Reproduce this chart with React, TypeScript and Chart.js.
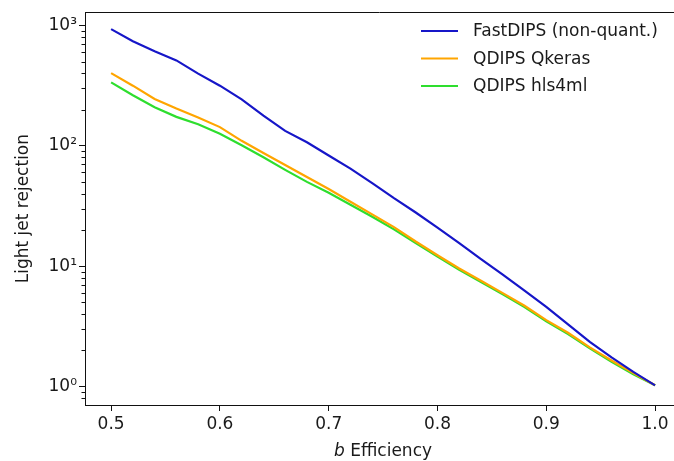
import React, { useEffect, useRef } from 'react';
import { Chart, registerables } from 'chart.js';

Chart.register(...registerables);

// ---------- data ----------
const efficiency = [
  0.50, 0.52, 0.54, 0.56, 0.58, 0.60, 0.62, 0.64, 0.66, 0.68, 0.70, 0.72, 0.74,
  0.76, 0.78, 0.80, 0.82, 0.84, 0.86, 0.88, 0.90, 0.92, 0.94, 0.96, 0.98, 1.00,
];
const fastDips = [
  933, 741, 610, 513, 398, 316, 243, 178, 133, 107, 83, 64.6, 49,
  36.7, 27.9, 20.9, 15.5, 11.4, 8.5, 6.24, 4.57, 3.27, 2.34, 1.74, 1.32, 1.02,
];
const qdipsQkeras = [
  402, 316, 245, 204, 172, 143, 110, 87, 69.2, 55, 43.7, 34.3, 26.9,
  21.1, 16.0, 12.3, 9.55, 7.55, 5.96, 4.68, 3.55, 2.79, 2.11, 1.64, 1.29, 1.02,
];
const qdipsHls4ml = [
  337, 263, 209, 174, 151, 126, 101, 80.4, 63.1, 50.1, 40.7, 32.4, 25.7,
  20.2, 15.5, 12.0, 9.33, 7.38, 5.82, 4.57, 3.47, 2.72, 2.07, 1.60, 1.26, 1.02,
];
const seriesLabels = ['FastDIPS (non-quant.)', 'QDIPS Qkeras', 'QDIPS hls4ml'];
const seriesColors = ['#1616c8', '#ffa500', '#2ede2e'];

const xTickValues = [0.5, 0.6, 0.7, 0.8, 0.9, 1.0];
const xTickLabels = ['0.5', '0.6', '0.7', '0.8', '0.9', '1.0'];
const yTickValues = [1, 10, 100, 1000];
const yTickLabels = ['10⁰', '10¹', '10²', '10³'];
const yMinorTickValues = [
  0.8, 0.9, 2, 3, 4, 5, 6, 7, 8, 9, 20, 30, 40, 50, 60, 70, 80, 90,
  200, 300, 400, 500, 600, 700, 800, 900,
];
const xTitleItalic = 'b';
const xTitleRest = ' Efficiency';
const yTitle = 'Light jet rejection';

// ---------- layout ----------
const FONT = "'DejaVu Sans', 'Liberation Sans', sans-serif";
const FS = 17;
const TEXT = '#1a1a1a';
const CW = 674;
const CH = 461;

const decorPlugin = {
  id: 'decor',
  afterDraw(chart: any) {
    const { ctx, chartArea, scales } = chart;
    const ys = scales.y;
    ctx.save();
    // top frame line (right spine lies outside the picture)
    ctx.strokeStyle = '#111';
    ctx.lineWidth = 1;
    ctx.beginPath();
    const ty = Math.round(chartArea.top) + 0.5;
    ctx.moveTo(chartArea.left, ty);
    ctx.lineTo(CW, ty);
    ctx.stroke();
    // minor y ticks
    ctx.beginPath();
    for (const v of yMinorTickValues) {
      const py = Math.round(ys.getPixelForValue(v)) + 0.5;
      if (py < chartArea.top || py > chartArea.bottom) continue;
      ctx.moveTo(chartArea.left, py);
      ctx.lineTo(chartArea.left - 3.5, py);
    }
    ctx.stroke();

    ctx.fillStyle = TEXT;
    // x title
    ctx.textBaseline = 'alphabetic';
    ctx.font = `italic ${FS}px ${FONT}`;
    const wB = ctx.measureText(xTitleItalic).width;
    ctx.font = `${FS}px ${FONT}`;
    const wR = ctx.measureText(xTitleRest).width;
    const cx = 383;
    const sx = cx - (wB + wR) / 2;
    ctx.font = `italic ${FS}px ${FONT}`;
    ctx.textAlign = 'left';
    ctx.fillText(xTitleItalic, sx, 456);
    ctx.font = `${FS}px ${FONT}`;
    ctx.fillText(xTitleRest, sx + wB, 456);

    // y title
    ctx.save();
    ctx.translate(28, (chartArea.top + chartArea.bottom) / 2);
    ctx.rotate(-Math.PI / 2);
    ctx.textAlign = 'center';
    ctx.fillText(yTitle, 0, 0);
    ctx.restore();

    // legend
    const rows = [31, 58.5, 86];
    chart.data.datasets.forEach((ds: any, i: number) => {
      ctx.strokeStyle = ds.borderColor;
      ctx.lineWidth = 2.2;
      ctx.beginPath();
      ctx.moveTo(421, rows[i]);
      ctx.lineTo(458, rows[i]);
      ctx.stroke();
      ctx.fillStyle = TEXT;
      ctx.font = `${FS}px ${FONT}`;
      ctx.textAlign = 'left';
      ctx.textBaseline = 'middle';
      ctx.fillText(ds.label, 473, rows[i] + 1);
    });
    ctx.restore();
  },
};

export default function App() {
  const ref = useRef<HTMLCanvasElement | null>(null);

  useEffect(() => {
    document.body.style.margin = '0';
    document.body.style.overflow = 'hidden';
    document.documentElement.style.overflow = 'hidden';
    const canvas = ref.current;
    if (!canvas) return;
    const seriesValues = [fastDips, qdipsQkeras, qdipsHls4ml];
    const chart = new Chart(canvas, {
      type: 'line',
      data: {
        datasets: seriesValues.map((vals, i) => ({
          label: seriesLabels[i],
          data: efficiency.map((x, j) => ({ x, y: vals[j] })),
          borderColor: seriesColors[i],
          backgroundColor: seriesColors[i],
          borderWidth: 2.2,
          pointRadius: 0,
          tension: 0,
          fill: false,
        })),
      },
      options: {
        responsive: false,
        devicePixelRatio: 1,
        animation: false,
        layout: { padding: { top: 8, right: 0, left: 0, bottom: 0 } },
        plugins: {
          legend: { display: false },
          tooltip: { enabled: false },
        },
        scales: {
          x: {
            type: 'linear',
            min: 0.476,
            max: 1.0174,
            afterFit: (s: any) => { s.height = 56; },
            afterBuildTicks: (axis: any) => {
              axis.ticks = xTickValues.map((v) => ({ value: v }));
            },
            ticks: {
              autoSkip: false,
              maxRotation: 0,
              padding: 3,
              color: TEXT,
              font: { family: FONT, size: FS },
              callback: (v: any) => xTickLabels[xTickValues.indexOf(Number(Number(v).toFixed(1)))] ?? '',
            },
            grid: {
              display: true,
              drawOnChartArea: false,
              drawTicks: true,
              tickLength: 6,
              tickColor: '#111',
              tickWidth: 1,
            },
            border: { display: true, color: '#111', width: 1 },
          },
          y: {
            type: 'logarithmic',
            min: 0.71,
            max: 1290,
            afterFit: (s: any) => { s.width = 85; },
            afterBuildTicks: (axis: any) => {
              axis.ticks = yTickValues.map((v) => ({ value: v }));
            },
            ticks: {
              autoSkip: false,
              padding: 2,
              color: TEXT,
              font: { family: FONT, size: FS },
              callback: (v: any) => yTickLabels[yTickValues.indexOf(Number(v))] ?? '',
            },
            grid: {
              display: true,
              drawOnChartArea: false,
              drawTicks: true,
              tickLength: 6,
              tickColor: '#111',
              tickWidth: 1,
            },
            border: { display: true, color: '#111', width: 1 },
          },
        },
      },
      plugins: [decorPlugin],
    } as any);
    return () => chart.destroy();
  }, []);

  return (
    <div style={{ width: CW, height: CH, overflow: 'hidden', position: 'relative', background: '#fff' }}>
      <canvas ref={ref} width={CW} height={CH} style={{ width: CW, height: CH, display: 'block' }} />
    </div>
  );
}
